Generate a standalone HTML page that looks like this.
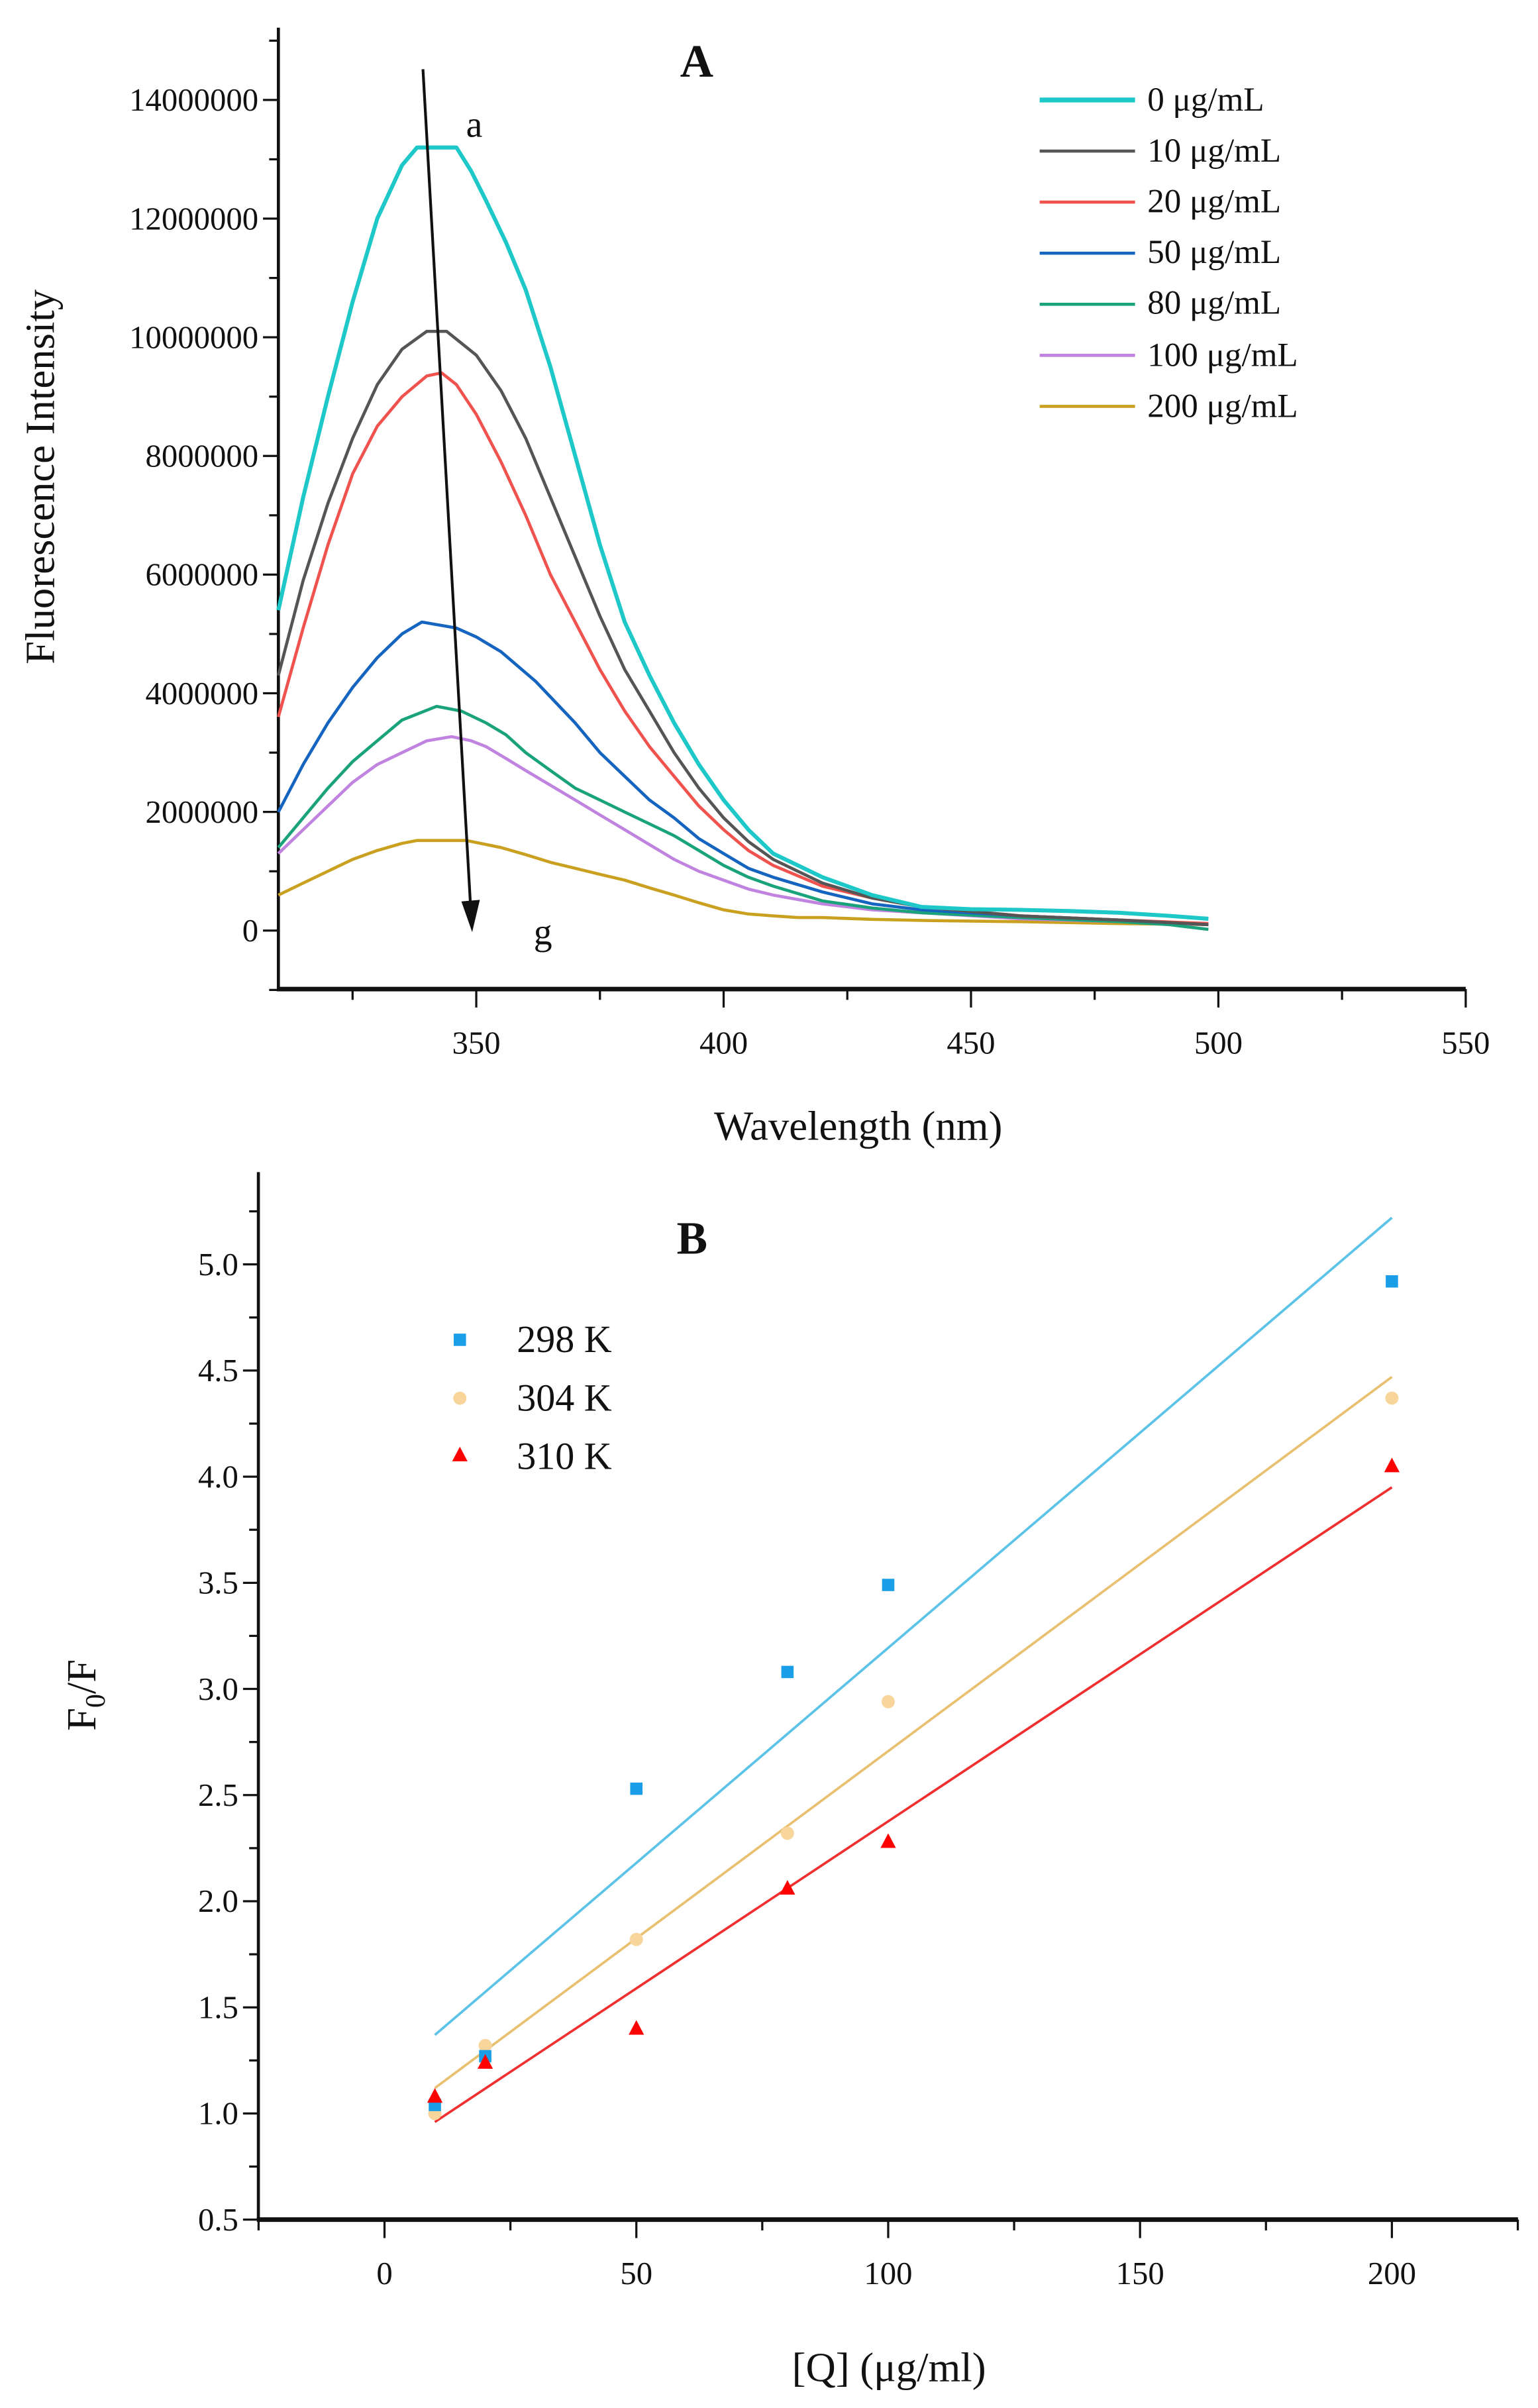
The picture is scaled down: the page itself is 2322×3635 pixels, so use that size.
<!DOCTYPE html>
<html><head><meta charset="utf-8"><style>
html,body{margin:0;padding:0;background:#fff}
svg{display:block}
text{font-family:"Liberation Serif",serif;fill:#111}
</style></head><body>
<svg id="s" width="2322" height="3635" viewBox="0 0 1000 1565.46" xmlns="http://www.w3.org/2000/svg">
<g id="g"></g>
<text x="453" y="50" font-size="30" font-weight="bold" text-anchor="middle">A</text>
<text x="303" y="89" font-size="24">a</text>
<text x="347" y="614" font-size="24">g</text>
<text x="558" y="741" font-size="27" text-anchor="middle">Wavelength (nm)</text>
<text transform="translate(35,310) rotate(-90)" font-size="27" text-anchor="middle">Fluorescence Intensity</text>
<g font-size="22">
<text x="746" y="72">0 μg/mL</text>
<text x="746" y="105">10 μg/mL</text>
<text x="746" y="138">20 μg/mL</text>
<text x="746" y="171">50 μg/mL</text>
<text x="746" y="204">80 μg/mL</text>
<text x="746" y="238">100 μg/mL</text>
<text x="746" y="271">200 μg/mL</text>
</g>
<text x="450" y="815" font-size="30" font-weight="bold" text-anchor="middle">B</text>
<text x="578" y="1548" font-size="27" text-anchor="middle">[Q] (μg/ml)</text>
<text transform="translate(62,1102) rotate(-90)" font-size="27" text-anchor="middle">F<tspan font-size="18" dy="6">0</tspan><tspan dy="-6">/F</tspan></text>
<g font-size="25">
<text x="336" y="879">298 K</text>
<text x="336" y="917">304 K</text>
<text x="336" y="955">310 K</text>
</g>
</svg>
<script>
const NS="http://www.w3.org/2000/svg",G=document.getElementById('g');
function el(t,a,p){const e=document.createElementNS(NS,t);for(const k in a)e.setAttribute(k,a[k]);(p||G).appendChild(e);return e;}
function txt(x,y,s,fs,anc){const e=el('text',{x:x,y:y,'font-size':fs,'text-anchor':anc||'middle'});e.textContent=s;}
const AX0=181,AX1=953,AY0=643,AYT=18;
const ax=w=>AX0+(w-310)*(AX1-AX0)/240;
const ay=v=>605-v*(540/14);
el('line',{x1:AX0,y1:AYT,x2:AX0,y2:AY0,stroke:'#111','stroke-width':2});
el('line',{x1:AX0-1,y1:AY0,x2:AX1,y2:AY0,stroke:'#111','stroke-width':3});
for(let v=-1;v<=15;v++){const y=ay(v);el('line',{x1:AX0-(v%2==0?10:6),y1:y,x2:AX0,y2:y,stroke:'#111','stroke-width':1.4});
 if(v%2==0&&v>=0)txt(AX0-13,y+7,v==0?'0':(v*1000000).toString(),21,'end');}
for(let w=325;w<=550;w+=25){const x=ax(w);el('line',{x1:x,y1:AY0,x2:x,y2:AY0+(w%50==0?12:7),stroke:'#111','stroke-width':1.4});
 if(w%50==0)txt(x,AY0+42,String(w),21);}
const C=[
['#1fc8c8',2.6,[[310,5.4],[315,7.3],[320,9],[325,10.6],[330,12],[335,12.9],[338,13.2],[346,13.2],[349,12.8],[352,12.3],[356,11.6],[360,10.8],[365,9.5],[370,8],[375,6.5],[380,5.2],[385,4.3],[390,3.5],[395,2.8],[400,2.2],[405,1.7],[410,1.3],[415,1.1],[420,0.9],[430,0.6],[440,0.4],[450,0.36],[460,0.35],[470,0.33],[480,0.3],[490,0.25],[498,0.2]]],
['#555555',2,[[310,4.3],[315,5.9],[320,7.2],[325,8.3],[330,9.2],[335,9.8],[340,10.1],[344,10.1],[350,9.7],[355,9.1],[360,8.3],[365,7.3],[370,6.3],[375,5.3],[380,4.4],[385,3.7],[390,3.0],[395,2.4],[400,1.9],[405,1.5],[410,1.2],[420,0.8],[430,0.55],[440,0.4],[460,0.25],[480,0.18],[498,0.1]]],
['#f0524e',2,[[310,3.6],[315,5.1],[320,6.5],[325,7.7],[330,8.5],[335,9.0],[340,9.35],[343,9.4],[346,9.2],[350,8.7],[355,7.9],[360,7.0],[365,6.0],[370,5.2],[375,4.4],[380,3.7],[385,3.1],[390,2.6],[395,2.1],[400,1.7],[405,1.35],[410,1.1],[420,0.75],[430,0.55],[440,0.4],[460,0.25],[480,0.18],[498,0.12]]],
['#1565c0',2,[[310,2.0],[315,2.8],[320,3.5],[325,4.1],[330,4.6],[335,5.0],[339,5.2],[346,5.1],[350,4.95],[355,4.7],[362,4.2],[370,3.5],[375,3.0],[380,2.6],[385,2.2],[390,1.9],[395,1.55],[400,1.3],[405,1.05],[410,0.9],[420,0.65],[430,0.45],[440,0.35],[460,0.25],[480,0.18],[498,0.1]]],
['#1aa37a',2,[[310,1.4],[315,1.9],[320,2.4],[325,2.85],[330,3.2],[335,3.55],[342,3.78],[347,3.7],[352,3.5],[356,3.3],[360,3.0],[365,2.7],[370,2.4],[375,2.2],[380,2.0],[385,1.8],[390,1.6],[395,1.35],[400,1.1],[405,0.9],[410,0.75],[420,0.5],[430,0.38],[440,0.3],[460,0.22],[480,0.15],[490,0.1],[498,0.02]]],
['#c084e0',2,[[310,1.3],[315,1.7],[320,2.1],[325,2.5],[330,2.8],[335,3.0],[340,3.2],[345,3.27],[349,3.2],[352,3.1],[356,2.9],[360,2.7],[365,2.45],[370,2.2],[375,1.95],[380,1.7],[385,1.45],[390,1.2],[395,1.0],[400,0.85],[405,0.7],[410,0.6],[420,0.45],[430,0.35],[440,0.3],[460,0.2],[480,0.15],[498,0.1]]],
['#c9a020',2,[[310,0.6],[315,0.8],[320,1.0],[325,1.2],[330,1.35],[335,1.47],[338,1.52],[348,1.52],[355,1.4],[360,1.28],[365,1.15],[370,1.05],[375,0.95],[380,0.85],[385,0.72],[390,0.6],[395,0.47],[400,0.35],[405,0.28],[410,0.25],[415,0.22],[420,0.22],[430,0.19],[440,0.17],[460,0.15],[480,0.12],[498,0.1]]]
];
for(let i=C.length-1;i>=0;i--){const c=C[i];
 el('polyline',{points:c[2].map(p=>ax(p[0]).toFixed(1)+','+ay(p[1]).toFixed(1)).join(' '),fill:'none',stroke:c[0],'stroke-width':c[1],'stroke-linejoin':'round'});
 const ly=65+i*33.2;el('line',{x1:676,y1:ly,x2:738,y2:ly,stroke:c[0],'stroke-width':c[1]+(i==0?0.6:0)});}
el('line',{x1:275,y1:45,x2:306,y2:590,stroke:'#111','stroke-width':1.8});
el('polygon',{points:'307,606 300,586 312,585',fill:'#111'});
const BX0=168,BX1=987,BY0=1443,BYT=762;
const bx=q=>250+q*3.275;
const by=v=>1443-(v-0.5)*138;
el('line',{x1:BX0,y1:BYT,x2:BX0,y2:BY0,stroke:'#111','stroke-width':2});
el('line',{x1:BX0-1,y1:BY0,x2:BX1,y2:BY0,stroke:'#111','stroke-width':3});
for(let k=2;k<=21;k++){const v=k*0.25,y=by(v);el('line',{x1:BX0-(k%2==0?10:6),y1:y,x2:BX0,y2:y,stroke:'#111','stroke-width':1.4});
 if(k%2==0)txt(BX0-13,y+7,v.toFixed(1),21,'end');}
for(let q=-25;q<=225;q+=25){const x=bx(q);el('line',{x1:x,y1:BY0,x2:x,y2:BY0+(q%50==0?12:7),stroke:'#111','stroke-width':1.4});
 if(q%50==0&&q>=0&&q<=200)txt(x,BY0+42,String(q),21);}
const L=[['#5bc3e8',1.37,5.22],['#e8c070',1.12,4.47],['#f03030',0.96,3.95]];
L.forEach(l=>el('line',{x1:bx(10),y1:by(l[1]),x2:bx(200),y2:by(l[2]),stroke:l[0],'stroke-width':1.6}));
const Q=[10,20,50,80,100,200];
const P1=[1.04,1.27,2.53,3.08,3.49,4.92],P2=[1.00,1.32,1.82,2.32,2.94,4.37],P3=[1.08,1.24,1.40,2.06,2.28,4.05];
function sq(x,y){el('rect',{x:x-4,y:y-4,width:8,height:8,fill:'#1a9ee8'});}
function ci(x,y){el('circle',{cx:x,cy:y,r:4.3,fill:'#f8d59a'});}
function tr(x,y){el('polygon',{points:`${x},${y-5.5} ${x-5},${y+4} ${x+5},${y+4}`,fill:'#f00'});}
Q.forEach((q,i)=>{ci(bx(q),by(P2[i]));sq(bx(q),by(P1[i]));tr(bx(q),by(P3[i]));});
sq(299,871);ci(299,909);tr(299,946);
</script>
</body></html>
